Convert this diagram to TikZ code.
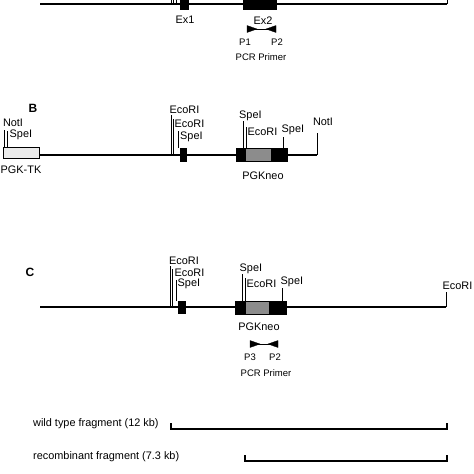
\documentclass[tikz,border=0pt]{standalone}
\usepackage{fontspec}
\setmainfont{Liberation Sans}
\begin{document}
\begin{tikzpicture}[x=1pt,y=-1pt,
  dna/.style={line width=1.4pt},
  site/.style={line width=0.7pt},
  exon/.style={fill=black,draw=black,line width=0.4pt},
  neo/.style={fill=black!45,draw=black,line width=0.4pt},
  tkbox/.style={fill=black!8,draw=black,line width=0.7pt},
  lbl/.style={font=\fontsize{10.9}{12}\selectfont,inner sep=0pt},
  slbl/.style={font=\fontsize{9.5}{11}\selectfont,inner sep=0pt},
  panel/.style={font=\bfseries\fontsize{12}{14}\selectfont,inner sep=0pt},
  brk/.style={line width=1.2pt},
  primer/.style={fill=black,draw=black,line width=0.3pt}]
\useasboundingbox (0,0) rectangle (474,474);
\clip (0,0) rectangle (474,474);

% ---------------- Panel A (cropped top) ----------------
\coordinate (aL) at (40,4);
\coordinate (aR) at (447,4);
\draw[dna] (aL) -- (aR);
\draw[site] (aR) -- (447,-3);
\draw[site] (171,4) -- (171,-3);
\draw[site] (173,4) -- (173,-3);
\draw[site] (176,4) -- (176,-3);
\filldraw[exon] (180,-4) rectangle (188,9);
\filldraw[exon] (243,-4) rectangle (276,9);
\node[lbl] (aEx1) at (185,20) {Ex1};
\node[lbl] (aEx2) at (263,21) {Ex2};
\fill[primer] (247,25.5) -- (247,32.5) -- (257,29) -- cycle;
\fill[primer] (276,25.5) -- (276,32.5) -- (266,29) -- cycle;
\draw[line width=1pt] (247,29) -- (276,29);
\node[slbl] (ap1) at (245,42) {P1};
\node[slbl] (ap2) at (277,42) {P2};
\node[slbl] (apcr) at (261,57) {PCR Primer};

% ---------------- Panel B ----------------
\node[panel] (B) at (33,108) {B};
\draw[dna] (39,155) -- (317,155);
\draw[site] (317,155) -- (317,133);
\node[lbl] (bnotR) at (323,122) {NotI};
\draw[site] (4,147) -- (4,130);
\node[lbl] (bnotL) at (13,123) {NotI};
\draw[site] (7.5,147) -- (7.5,131);
\node[lbl,anchor=west] (bspeL) at (9.5,134.5) {SpeI};
\filldraw[tkbox] (3,147) rectangle (39,158);
\node[lbl] (bpgktk) at (21,170) {PGK-TK};
% restriction sites near Ex1
\draw[site] (171,155) -- (171,115);
\node[lbl,anchor=west] (beco1) at (169.5,110) {EcoRI};
\draw[site] (173,155) -- (173,119);
\node[lbl,anchor=west] (beco2) at (174.5,124) {EcoRI};
\draw[site] (178,148) -- (178,131);
\node[lbl,anchor=west] (bspe1) at (180,137) {SpeI};
\filldraw[exon] (180,148) rectangle (186,161);
% PGKneo cassette
\draw[site] (243,148) -- (243,121);
\node[lbl,anchor=west] (bspe2) at (239,116) {SpeI};
\draw[site] (246,148) -- (246,127);
\node[lbl,anchor=west] (beco3) at (247.5,132) {EcoRI};
\draw[site] (283,148) -- (283,137);
\node[lbl,anchor=west] (bspe3) at (281.5,130) {SpeI};
\filldraw[exon] (236,148) rectangle (245,161);
\filldraw[neo] (245,148) rectangle (271,161);
\filldraw[exon] (271,148) rectangle (287,161);
\node[lbl] (bneo) at (263,176) {PGKneo};

% ---------------- Panel C ----------------
\node[panel] (C) at (30,272) {C};
\draw[dna] (40,307) -- (446,307);
\draw[site] (446,307) -- (446,292);
\node[lbl,anchor=west] (ceco4) at (442.5,286) {EcoRI};
\draw[site] (170,307) -- (170,266);
\node[lbl,anchor=west] (ceco1) at (169,261) {EcoRI};
\draw[site] (172.5,307) -- (172.5,269);
\node[lbl,anchor=west] (ceco2) at (174.5,273) {EcoRI};
\draw[site] (176,301) -- (176,280);
\node[lbl,anchor=west] (cspe1) at (177.5,284) {SpeI};
\filldraw[exon] (178,301) rectangle (185,313);
\draw[site] (242,301) -- (242,274);
\node[lbl,anchor=west] (cspe2) at (239.5,269) {SpeI};
\draw[site] (245,301) -- (245,278);
\node[lbl,anchor=west] (ceco3) at (246.5,284) {EcoRI};
\draw[site] (282,301) -- (282,288);
\node[lbl,anchor=west] (cspe3) at (280.5,282) {SpeI};
\filldraw[exon] (235,301) rectangle (245,314);
\filldraw[neo] (245,301) rectangle (269,314);
\filldraw[exon] (269,301) rectangle (286,314);
\node[lbl] (cneo) at (259,327) {PGKneo};
\fill[primer] (250,340.5) -- (250,347.5) -- (260,344) -- cycle;
\fill[primer] (278,340.5) -- (278,347.5) -- (268,344) -- cycle;
\draw[line width=1pt] (250,344) -- (278,344);
\node[slbl] (cp3) at (250,357) {P3};
\node[slbl] (cp2) at (275,357) {P2};
\node[slbl] (cpcr) at (266,373) {PCR Primer};

% ---------------- Fragments ----------------
\node[lbl,anchor=west] (wt) at (33,424) {wild type fragment (12 kb)};
\draw[brk] (171,423) -- (171,429) -- (447,429) -- (447,423);
\node[lbl,anchor=west] (rec) at (33,457) {recombinant fragment (7.3 kb)};
\draw[brk] (245,455) -- (245,461) -- (447,461) -- (447,455);
\end{tikzpicture}
\end{document}
